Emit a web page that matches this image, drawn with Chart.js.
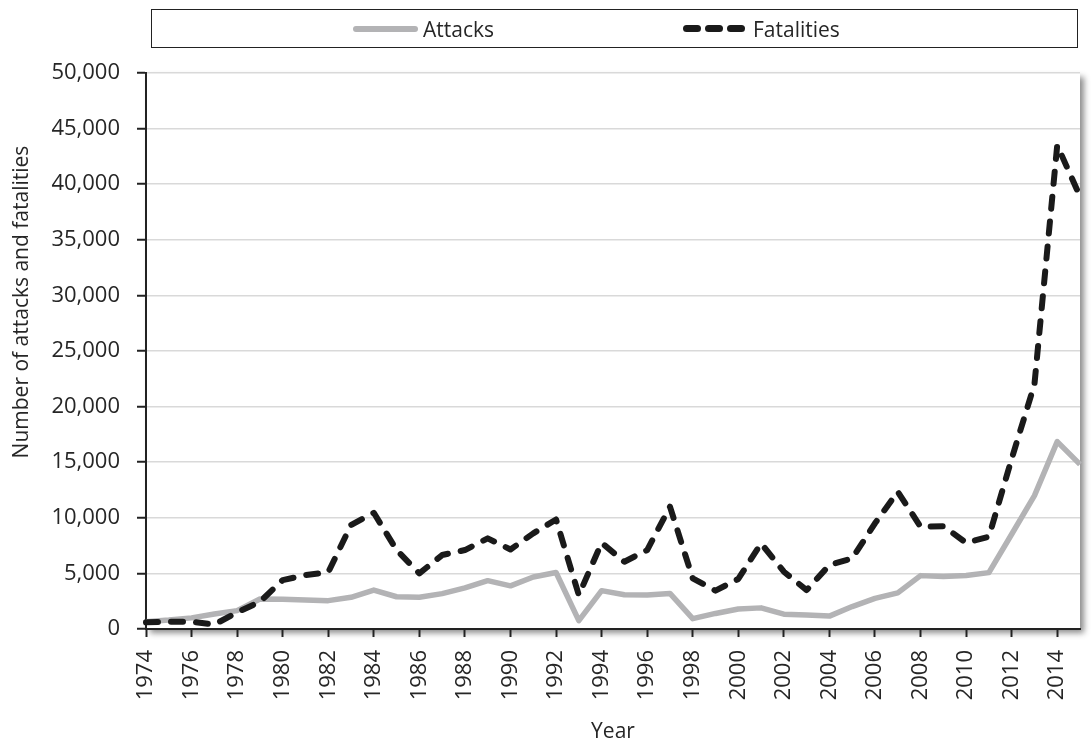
<!DOCTYPE html>
<html lang="en">
<head>
  <meta charset="UTF-8">
  <title>Attacks and Fatalities</title>
  <script src="https://cdn.jsdelivr.net/npm/chart.js"></script>
  <style>
    body {
      margin: 0;
      background: #ffffff;
      font-family: "Open Sans", sans-serif;
      color: #262626;
    }
    .wrap {
      position: relative;
      width: 1091px;
      height: 743px;
    }
    .legend-box {
      position: absolute;
      left: 151px;
      top: 9px;
      width: 925px;
      height: 37px;
      border: 1px solid #222;
      box-sizing: content-box;
      font-size: 21px;
    }
    .legend-item {
      position: absolute;
      top: 0;
      height: 37px;
      display: flex;
      align-items: center;
    }
    .swatch-solid {
      width: 65px;
      height: 6px;
      border-radius: 3px;
      background: #b3b3b5;
      margin-right: 5px;
    }
    .dash {
      width: 18px;
      height: 7px;
      border-radius: 4px;
      background: #1a1a1a;
      margin-right: 4px;
    }
  </style>
</head>
<body>
  <div class="wrap">
    <canvas id="chart"></canvas>
    <div class="legend-box">
      <div class="legend-item" style="left: 201px;">
        <span class="swatch-solid"></span><span>Attacks</span>
      </div>
      <div class="legend-item" style="left: 531px;">
        <span class="dash"></span><span class="dash"></span><span class="dash" style="margin-right: 8px;"></span><span>Fatalities</span>
      </div>
    </div>
  </div>

  <script>
    const years = [];
    for (let y = 1974; y <= 2015; y++) years.push(String(y));

    const attacks = [650, 800, 1000, 1350, 1650, 2700, 2680, 2600, 2550, 2850,
      3500, 2900, 2850, 3180, 3700, 4350, 3880, 4680, 5080, 750,
      3450, 3080, 3050, 3200, 930, 1400, 1800, 1900, 1330, 1260,
      1160, 2020, 2750, 3250, 4800, 4720, 4820, 5070, 8520, 12000,
      16850, 14800];

    const fatalities = [600, 650, 650, 400, 1500, 2450, 4400, 4850, 5100, 9350,
      10450, 7100, 5000, 6650, 7100, 8150, 7150, 8600, 9850, 3050,
      7750, 6050, 7100, 11000, 4550, 3450, 4500, 7700, 5150, 3500,
      5750, 6350, 9500, 12350, 9200, 9250, 7750, 8300, 15300, 22000,
      43500, 38900];

    const yTitle = 'Number of attacks and fatalities';
    const textColor = '#262626';
    const fontFamily = '"Open Sans", sans-serif';
    const tickFont = { family: fontFamily, size: 22 };
    const titleFont = { family: fontFamily, size: 21 };

    // soft shadow behind plot area (right / bottom)
    const plotShadow = {
      id: 'plotShadow',
      beforeDraw(chart) {
        const a = chart.chartArea;
        const ctx = chart.ctx;
        ctx.save();
        ctx.shadowColor = 'rgba(0,0,0,0.45)';
        ctx.shadowBlur = 6;
        ctx.shadowOffsetX = 4;
        ctx.shadowOffsetY = 4;
        ctx.fillStyle = '#ffffff';
        ctx.fillRect(a.left, a.top, a.right - a.left, a.bottom - a.top);
        ctx.restore();
      }
    };

    // y axis title sits a bit above the middle in the original
    const yTitlePlugin = {
      id: 'yTitlePlugin',
      afterDraw(chart) {
        const ctx = chart.ctx;
        ctx.save();
        ctx.translate(22, 302);
        ctx.rotate(-Math.PI / 2);
        ctx.font = '21px ' + fontFamily;
        ctx.fillStyle = textColor;
        ctx.textAlign = 'center';
        ctx.textBaseline = 'middle';
        ctx.fillText(yTitle, 0, 0);
        ctx.restore();
      }
    };

    new Chart(document.getElementById('chart'), {
      type: 'line',
      data: {
        labels: years,
        datasets: [
          {
            label: 'Attacks',
            data: attacks,
            borderColor: '#b3b3b5',
            borderWidth: 5.5,
            borderJoinStyle: 'round',
            pointRadius: 0,
            tension: 0,
            order: 1
          },
          {
            label: 'Fatalities',
            data: fatalities,
            borderColor: '#1a1a1a',
            borderWidth: 6,
            borderDash: [12, 13],
            borderCapStyle: 'round',
            borderJoinStyle: 'round',
            pointRadius: 0,
            tension: 0,
            order: 0
          }
        ]
      },
      options: {
        responsive: true,
        maintainAspectRatio: false,
        animation: false,
        layout: { padding: { left: 0, top: 73, right: 11, bottom: 0 } },
        plugins: {
          legend: { display: false },
          tooltip: { enabled: false }
        },
        scales: {
          x: {
            type: 'category',
            offset: false,
            afterBuildTicks: scale => {
              scale.ticks = scale.ticks.filter((t, i) => i % 2 === 0);
            },
            afterFit: scale => {
              scale.height = 114;
              scale.paddingLeft = 0;
              scale.paddingRight = 0;
            },
            grid: {
              drawOnChartArea: false,
              drawTicks: true,
              tickLength: 8,
              tickColor: '#222',
              tickWidth: 2
            },
            border: { color: '#222', width: 2 },
            ticks: {
              autoSkip: false,
              maxRotation: 90,
              minRotation: 90,
              padding: 13,
              color: textColor,
              font: tickFont
            },
            title: {
              display: true,
              text: 'Year',
              color: textColor,
              font: titleFont,
              padding: { top: 0, bottom: -2 }
            }
          },
          y: {
            min: 0,
            max: 50000,
            afterFit: scale => { scale.width = 146; },
            grid: {
              color: '#d9d9d9',
              lineWidth: 1.5,
              tickLength: 9,
              tickColor: '#222',
              tickWidth: 2
            },
            border: { color: '#222', width: 2 },
            ticks: {
              stepSize: 5000,
              padding: 17,
              color: textColor,
              font: tickFont,
              callback: v => v.toLocaleString('en-US')
            },
            title: { display: false }
          }
        }
      },
      plugins: [plotShadow, yTitlePlugin]
    });
  </script>
</body>
</html>
